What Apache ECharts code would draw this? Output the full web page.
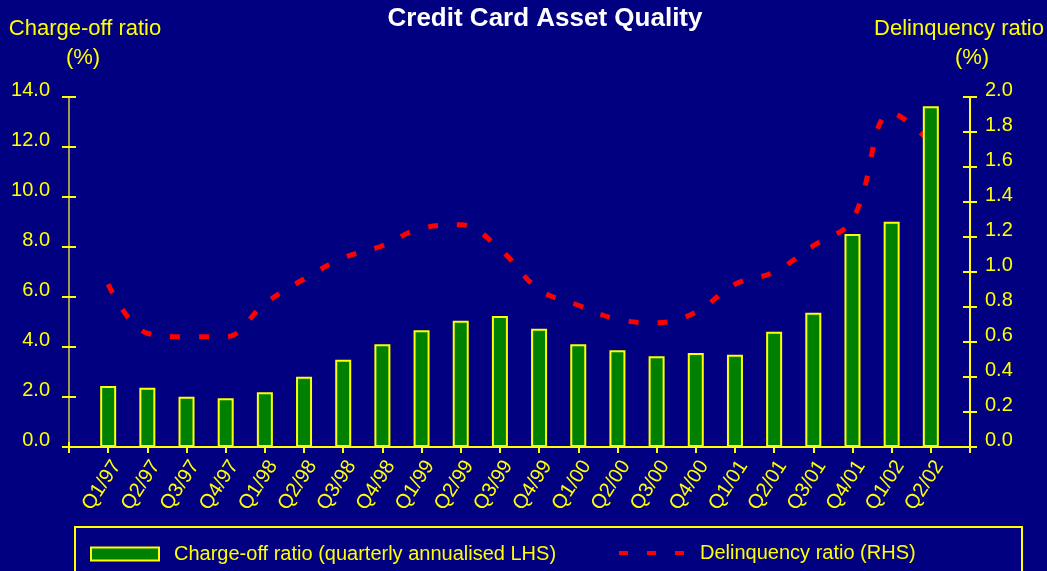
<!DOCTYPE html>
<html><head><meta charset="utf-8">
<script src="https://cdn.jsdelivr.net/npm/echarts@6/dist/echarts.min.js"></script>
<style>html,body{margin:0;padding:0;background:#000080}#c{width:1047px;height:571px}</style>
</head><body><div id="c"></div>
<script>
const quarters = ['Q1/97','Q2/97','Q3/97','Q4/97','Q1/98','Q2/98','Q3/98','Q4/98','Q1/99','Q2/99','Q3/99','Q4/99','Q1/00','Q2/00','Q3/00','Q4/00','Q1/01','Q2/01','Q3/01','Q4/01','Q1/02','Q2/02'];
const chargeOff = [2.44,2.37,2.01,1.95,2.19,2.81,3.49,4.11,4.67,5.05,5.24,4.73,4.11,3.87,3.63,3.76,3.69,4.61,5.37,8.52,9.01,13.63];
const delinquency = [0.93,0.65,0.63,0.63,0.82,0.96,1.08,1.15,1.25,1.27,1.13,0.90,0.81,0.73,0.71,0.77,0.93,1.00,1.15,1.30,1.91,1.74];
const leftAxis = {min:0, max:14, interval:2};
const rightAxis = {min:0, max:2, interval:0.2};
const barName = 'Charge-off ratio (quarterly annualised LHS)';
const lineName = 'Delinquency ratio (RHS)';

const FONT = 'Liberation Sans, Arial, sans-serif';
const YEL = '#ffff00';
const cats = [''].concat(quarters, ['']);
const pad = a => ['-'].concat(a, ['-']);

const chart = echarts.init(document.getElementById('c'), null, {renderer:'canvas'});
const xBase = {type:'category', data:cats, boundaryGap:false, gridIndex:0, position:'bottom'};
const yLbl = {color:YEL, fontSize:20, fontFamily:FONT, verticalAlign:'bottom', lineHeight:14, formatter:v=>Number(v).toFixed(1)};
const nameStyle = {color:YEL, fontSize:22, fontWeight:'normal', fontFamily:FONT};
chart.setOption({
  backgroundColor:'#000080',
  animation:false,
  title:[
    {text:'Credit Card Asset Quality', left:545, top:6, padding:0, textAlign:'center', textStyle:{color:'#ffffff', fontSize:26, fontWeight:'bold', fontFamily:FONT}},
    {text:'Charge-off ratio', left:85, top:18, padding:0, textAlign:'center', textStyle:nameStyle},
    {text:'(%)', left:83, top:47, padding:0, textAlign:'center', textStyle:nameStyle},
    {text:'Delinquency ratio', left:959, top:18, padding:0, textAlign:'center', textStyle:nameStyle},
    {text:'(%)', left:972, top:47, padding:0, textAlign:'center', textStyle:nameStyle}
  ],
  legend:[
    {data:[{name:barName, icon:'rect'}], left:90, top:544, padding:0, itemWidth:68, itemHeight:13, selectedMode:false,
     textStyle:{color:YEL, fontSize:20, fontFamily:FONT, padding:[0,0,0,10]}},
    {data:[lineName], left:617, top:543, padding:0, itemWidth:68, itemHeight:14, selectedMode:false,
     itemStyle:{opacity:0},
     lineStyle:{color:'#ff0000', width:4, type:[9,19], cap:'butt'},
     textStyle:{color:YEL, fontSize:20, fontFamily:FONT, padding:[0,0,0,8]}}
  ],
  graphic:[{type:'rect', shape:{x:75, y:527, width:947, height:60}, style:{fill:'none', stroke:YEL, lineWidth:2}, silent:true}],
  grid:{left:69, right:77, top:97, bottom:124},
  xAxis:[
    Object.assign({}, xBase, {
      axisLine:{lineStyle:{color:YEL, width:2}},
      axisTick:{show:true, interval:0, length:6, lineStyle:{color:YEL, width:2}},
      axisLabel:{interval:0, rotate:57, margin:10, verticalAlign:'top', color:YEL, fontSize:20, fontFamily:FONT},
      splitLine:{show:false}
    }),
    Object.assign({}, xBase, {
      axisLine:{show:false},
      axisTick:{show:true, inside:true, interval:0, length:5, lineStyle:{color:YEL, width:2}},
      axisLabel:{show:false}, splitLine:{show:false}
    })
  ],
  yAxis:[
    Object.assign({type:'value', position:'left'}, leftAxis, {
      axisLine:{show:true, lineStyle:{color:'#a09a50', width:2}},
      axisTick:{show:true, length:7, lineStyle:{color:YEL, width:2}},
      axisLabel:Object.assign({}, yLbl, {margin:19}),
      splitLine:{show:false}
    }),
    Object.assign({type:'value', position:'right'}, rightAxis, {
      axisLine:{show:true, lineStyle:{color:YEL, width:2}},
      axisTick:{show:true, length:7, lineStyle:{color:YEL, width:2}},
      axisLabel:Object.assign({}, yLbl, {margin:15}),
      splitLine:{show:false}
    }),
    Object.assign({type:'value', position:'left'}, leftAxis, {
      axisLine:{show:false}, axisLabel:{show:false}, splitLine:{show:false},
      axisTick:{show:true, inside:true, length:7, lineStyle:{color:YEL, width:2}}
    }),
    Object.assign({type:'value', position:'right'}, rightAxis, {
      axisLine:{show:false}, axisLabel:{show:false}, splitLine:{show:false},
      axisTick:{show:true, inside:true, length:7, lineStyle:{color:YEL, width:2}}
    })
  ],
  series:[
    {name:lineName, type:'line', xAxisIndex:0, yAxisIndex:1, data:pad(delinquency), smooth:0.4, symbol:'none', z:2,
     lineStyle:{color:'#ff0000', width:5, type:[10,19], cap:'butt'}, itemStyle:{color:'#ff0000'}},
    {name:barName, type:'bar', xAxisIndex:0, yAxisIndex:0, data:pad(chargeOff), barWidth:16, z:3,
     itemStyle:{color:'#008000', borderColor:YEL, borderWidth:2}}
  ]
});
</script></body></html>
